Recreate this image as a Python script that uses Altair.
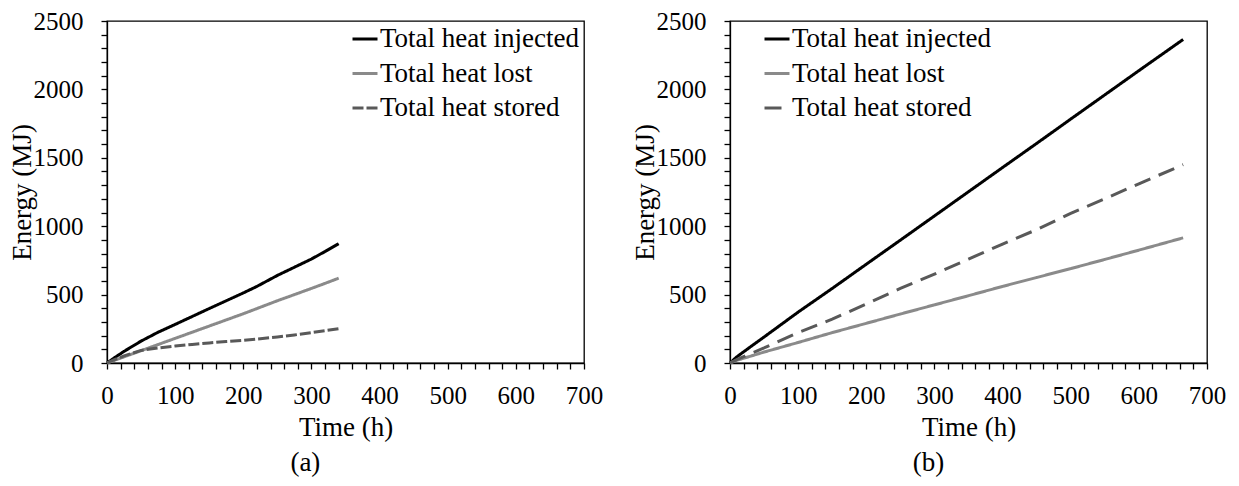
import altair as alt
import pandas as pd

# Panel (a): shorter run
time_a = [0, 10, 25, 50, 75, 100, 125, 150, 175, 200, 220, 250, 275, 300, 320, 340]
injected_a = [0, 35, 85, 160, 225, 282, 340, 398, 455, 512, 560, 640, 700, 760, 815, 872]
lost_a = [0, 18, 45, 90, 135, 180, 225, 270, 315, 360, 398, 455, 500, 545, 582, 620]
stored_a = [0, 22, 52, 92, 110, 124, 136, 147, 157, 166, 175, 190, 205, 222, 236, 251]

# Panel (b): longer run
time_b = [0, 10, 25, 50, 100, 150, 200, 250, 300, 350, 400, 450, 500, 550, 600, 665]
injected_b = [0, 45, 100, 190, 372, 545, 722, 898, 1075, 1252, 1429, 1605, 1783, 1960, 2137, 2365]
lost_b = [0, 20, 42, 80, 150, 222, 290, 358, 425, 492, 560, 625, 690, 757, 825, 915]
stored_b = [0, 25, 58, 110, 222, 320, 432, 545, 650, 760, 869, 975, 1093, 1200, 1310, 1450]

series_names = ["Total heat injected", "Total heat lost", "Total heat stored"]
series_colors = ["#000000", "#8a8a8a", "#595959"]

FONT = "Liberation Serif"
TICK_FS = 25
TEXT_FS = 27


def long_table(t, inj, lost, stored):
    rows = []
    for name, vals in zip(series_names, [inj, lost, stored]):
        for ti, v in zip(t, vals):
            rows.append({"time": ti, "energy": v, "series": name})
    return pd.DataFrame(rows)


def panel(df, dash, legend_x, caption):
    legend = alt.Legend(
        title=None,
        orient="none",
        legendX=legend_x,
        legendY=4,
        symbolType="stroke",
        symbolSize=625,
        symbolStrokeWidth=3,
        labelOffset=1,
        rowPadding=7.5,
        padding=0,
        labelFont=FONT,
        labelFontSize=TEXT_FS,
        labelColor="black",
        labelLimit=400,
    )
    x_axis = alt.Axis(
        title="Time (h)",
        values=list(range(0, 701, 20)),
        labelExpr="datum.value % 100 === 0 ? '' + datum.value : ''",
        labelOverlap=False,
        labelFlush=False,
        labelPadding=14,
        titlePadding=6,
        grid=False,
    )
    y_axis = alt.Axis(
        title="Energy (MJ)",
        values=list(range(0, 2501, 100)),
        labelExpr="datum.value % 500 === 0 ? '' + datum.value : ''",
        labelOverlap=False,
        labelFlush=False,
        labelPadding=18,
        titleX=-85,
        titleY=171,
        titleBaseline="middle",
        titleAlign="center",
        grid=False,
    )
    return (
        alt.Chart(df)
        .mark_line(strokeWidth=3)
        .encode(
            x=alt.X("time:Q", scale=alt.Scale(domain=[0, 700], nice=False), axis=x_axis),
            y=alt.Y("energy:Q", scale=alt.Scale(domain=[0, 2500], nice=False), axis=y_axis),
            color=alt.Color(
                "series:N",
                scale=alt.Scale(domain=series_names, range=series_colors),
                sort=series_names,
                legend=legend,
            ),
            strokeDash=alt.StrokeDash(
                "series:N",
                scale=alt.Scale(domain=series_names, range=[[1, 0], [1, 0], dash]),
                sort=series_names,
                legend=legend,
            ),
        )
        .properties(
            width=477,
            height=342,
            title=alt.TitleParams(
                caption,
                orient="bottom",
                anchor="middle",
                frame="bounds",
                font=FONT,
                fontSize=TEXT_FS,
                fontWeight="normal",
                color="black",
                offset=10,
            ),
        )
    )


left = panel(long_table(time_a, injected_a, lost_a, stored_a), [11, 3], 244, "(a)")
right = panel(long_table(time_b, injected_b, lost_b, stored_b), [17, 9], 33, "(b)")

chart = (
    alt.hconcat(left, right, spacing=26)
    .resolve_scale(color="independent", strokeDash="independent")
    .properties(
        background="white",
        padding={"left": 7, "top": 8, "right": 0, "bottom": 0},
    )
    .configure_view(stroke="black", strokeWidth=1.3)
    .configure_axis(
        labelFont=FONT,
        labelFontSize=TICK_FS,
        labelColor="black",
        titleFont=FONT,
        titleFontSize=TEXT_FS,
        titleFontWeight="normal",
        titleColor="black",
        domainColor="black",
        domainWidth=1.3,
        tickColor="black",
        tickWidth=1.3,
        tickSize=6,
    )
)

chart.save("out.html", embed_options={"renderer": "svg", "actions": False})
